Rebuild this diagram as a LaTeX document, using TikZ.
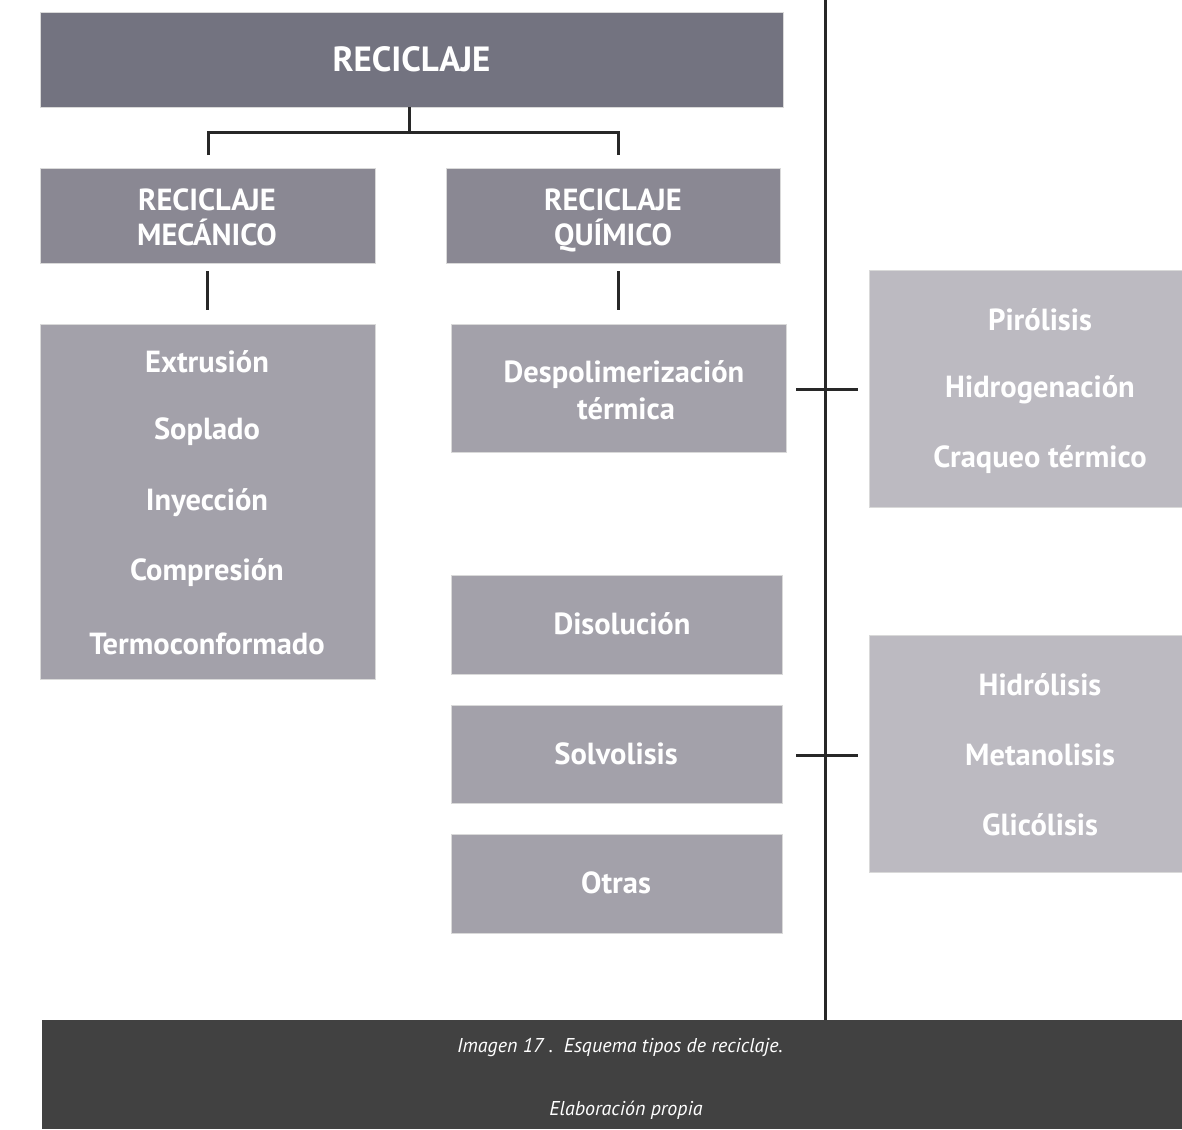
\documentclass[tikz,border=0pt]{standalone}
\usepackage{fontspec}
\setmainfont{PT Sans}
\usetikzlibrary{calc}
\definecolor{cTop}{RGB}{115,115,128}
\definecolor{cMid}{RGB}{138,136,147}
\definecolor{cList}{RGB}{163,161,170}
\definecolor{cRight}{RGB}{188,186,193}
\definecolor{cBar}{RGB}{65,65,65}
\definecolor{cLine}{RGB}{40,40,40}
\begin{document}
\begin{tikzpicture}[x=1pt,y=-1pt,
  box/.style={rectangle, inner sep=0pt, text=white, align=center, draw=white!70!gray, line width=0.6pt},
  conn/.style={draw=cLine, line width=3pt},
  itemtxt/.style={text=white, font=\fontsize{30.5}{34}\selectfont\bfseries, inner sep=0pt},
  captxt/.style={text=white, font=\fontsize{20}{24}\selectfont\itshape, inner sep=0pt}]
\useasboundingbox (0,0) rectangle (1182,1129);
\begin{scope}
\clip (0,0) rectangle (1182,1129);
% main boxes
\node[box, fill=cTop, minimum width=743, minimum height=95, font=\fontsize{35}{40}\selectfont\bfseries] (top) at (411.5,59.5)
  {RECICLAJE};
\node[box, fill=cMid, minimum width=335, minimum height=95] (mec) at (207.5,215.5) {};
\node[itemtxt, anchor=base] (mec1) at (207,210) {RECICLAJE};
\node[itemtxt, anchor=base] (mec2) at (207,245) {MECÁNICO};
\node[box, fill=cMid, minimum width=334, minimum height=95] (qui) at (613,215.5) {};
\node[itemtxt, anchor=base] (qui1) at (613,210) {RECICLAJE};
\node[itemtxt, anchor=base] (qui2) at (613,245) {QUÍMICO};
% mechanical list
\node[box, fill=cList, minimum width=335, minimum height=355] (meclist) at (207.5,501.5) {};
\node[itemtxt] (m1) at (207,362) {Extrusión};
\node[itemtxt] (m2) at (207,432) {Soplado};
\node[itemtxt] (m3) at (207,503) {Inyección};
\node[itemtxt] (m4) at (207,573) {Compresión};
\node[itemtxt] (m5) at (207,644) {Termoconformado};
% chemical boxes
\node[box, fill=cList, minimum width=335, minimum height=128] (desp) at (618.5,388) {};
\node[itemtxt] (d1) at (624,375) {Despolimerización};
\node[itemtxt] (d2) at (626,409) {térmica};
\node[box, fill=cList, minimum width=331, minimum height=99] (diso) at (616.5,624.5) {};
\node[itemtxt] (d3) at (622,624) {Disolución};
\node[box, fill=cList, minimum width=331, minimum height=98] (solv) at (616.5,754) {};
\node[itemtxt] (s1) at (616,754) {Solvolisis};
\node[box, fill=cList, minimum width=331, minimum height=99] (otra) at (616.5,883.5) {};
\node[itemtxt] (o1) at (616,883) {Otras};
% right boxes
\node[box, fill=cRight, minimum width=342, minimum height=237] (r1) at (1040,388.5) {};
\node[itemtxt] (r1a) at (1040,320) {Pirólisis};
\node[itemtxt] (r1b) at (1040,390) {Hidrogenación};
\node[itemtxt] (r1c) at (1040,460) {Craqueo térmico};
\node[box, fill=cRight, minimum width=342, minimum height=237] (r2) at (1040,753.5) {};
\node[itemtxt] (r2a) at (1040,685) {Hidrólisis};
\node[itemtxt] (r2b) at (1040,755) {Metanolisis};
\node[itemtxt] (r2c) at (1040,825) {Glicólisis};
% bottom bar
\node[rectangle, fill=cBar, inner sep=0pt, minimum width=1140, minimum height=109] (bar) at (612,1074.5) {};
\node[captxt] (cap1) at (620,1047) {Imagen 17 .\ \ Esquema tipos de reciclaje.};
\node[captxt] (cap2) at (626,1110) {Elaboración propia};
% connectors
\coordinate (vtop) at (825,0);
\coordinate (vbot) at (825,1020);
\draw[conn] (vtop) -- (vbot);
\coordinate (tj) at (409,132);
\coordinate (tl) at (208,155);
\coordinate (tr) at (618,155);
\draw[conn] (top.south -| tj) -- (tj);
\draw[conn] (tl) |- (tj) -| (tr);
\coordinate (ma) at (207,271);
\coordinate (mb) at (207,310);
\coordinate (qa) at (618,271);
\coordinate (qb) at (618,310);
\draw[conn] (ma) -- (mb);
\draw[conn] (qa) -- (qb);
\coordinate (h1a) at (796,389);
\coordinate (h1b) at (858,389);
\coordinate (h2a) at (796,755);
\coordinate (h2b) at (858,755);
\draw[conn] (h1a) -- (h1b);
\draw[conn] (h2a) -- (h2b);
\end{scope}
\end{tikzpicture}
\end{document}
